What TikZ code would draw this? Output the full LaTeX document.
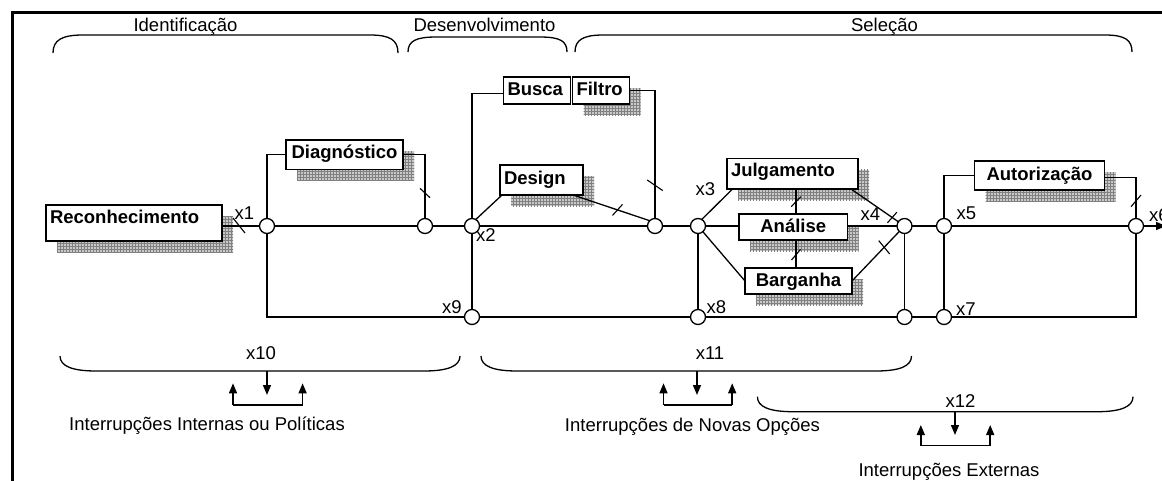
\documentclass[tikz,border=0pt]{standalone}
\usepackage{fontspec}
\setmainfont{Liberation Sans}
\usetikzlibrary{calc,arrows.meta,patterns,backgrounds}
\begin{document}
\begin{tikzpicture}[x=1pt,y=-1pt,
  txt/.style={inner sep=0pt, font=\fontsize{18.5}{22}\selectfont},
  wire/.style={line width=1.3pt},
  box/.style={draw, line width=1.4pt, fill=white, inner ysep=0pt, inner xsep=4pt,
              outer sep=0pt, font=\fontsize{18.5}{22}\selectfont\bfseries},
  junc/.style={circle, draw, line width=1.3pt, fill=white, minimum size=15pt,
               inner sep=0pt, outer sep=0pt},
  tickmark/.style={line width=1.1pt},
  brace/.style={line width=1.3pt},
  shadowfill/.style={fill=gray!42, postaction={pattern=grid, pattern color=gray}},
  flow/.style={line width=1.5pt, -{Triangle[length=10pt,width=8pt]}},
]
\useasboundingbox (0,0) rectangle (1162,480);

% frame
\draw[line width=3pt] (12,485) -- (12,12) -- (1170,12);

% phase braces
\draw[brace] (53,53) .. controls (53,40) and (62,35) .. (83,35) -- (370,35)
  .. controls (390,35) and (398,40) .. (398,53);
\draw[brace] (408,52) .. controls (408,41) and (416,37) .. (436,37) -- (540,37)
  .. controls (560,37) and (567,41) .. (567,52);
\draw[brace] (575,52) .. controls (575,40) and (583,35) .. (603,35) -- (1105,35)
  .. controls (1125,35) and (1132,40) .. (1132,52);
\node[txt, anchor=base] (tid) at (185.5,31.7) {Identificação};
\node[txt, anchor=base] (tdv) at (484.5,31.7) {Desenvolvimento};
\node[txt, anchor=base] (tsl) at (884.5,31.7) {Seleção};

% routine boxes
\node[box, anchor=base west, text width=168pt, text height=18.5pt, text depth=17.5pt, align=left]
  (rec) at (46,223.5) {Reconhecimento};
\node[box, anchor=base west, text width=109pt, text height=18.5pt, text depth=11pt, align=center]
  (diag) at (286,158.5) {Diagnóstico};
\node[box, anchor=base west, text width=59pt, text height=18.7pt, text depth=8.3pt, align=left]
  (busca) at (503.5,95.7) {Busca};
\node[box, anchor=base west, text width=49pt, text height=18.7pt, text depth=8.3pt, align=left]
  (filtro) at (572.5,95.7) {Filtro};
\node[box, anchor=base west, text width=75pt, text height=19pt, text depth=11pt, align=left]
  (design) at (500,184) {Design};
\node[box, anchor=base west, text width=123pt, text height=18.2pt, text depth=12.3pt, align=left]
  (julg) at (727,176.7) {Julgamento};
\node[box, anchor=base west, text width=100.5pt, text height=18.3pt, text depth=7.7pt, align=center]
  (anal) at (739,232.3) {Análise};
\node[box, anchor=base west, text width=99pt, text height=18.7pt, text depth=7.3pt, align=center]
  (barg) at (745,286.7) {Barganha};
\node[box, anchor=base west, text width=122pt, text height=19.7pt, text depth=9.3pt, align=center]
  (aut) at (974.5,180.7) {Autorização};

% hatched drop shadows
\begin{scope}[on background layer]
  \foreach \n in {rec,diag,filtro,design,julg,anal,barg,aut}
    \path[shadowfill] ($(\n.north west)+(11,11)$) rectangle ($(\n.south east)+(11,11)$);
\end{scope}

% junctions
\node[junc] (c1) at (267,226) {};
\node[junc] (c2) at (425,226) {};
\node[junc] (x2) at (472,226) {};
\node[junc] (c3) at (655,226) {};
\node[junc] (x3) at (698,226) {};
\node[junc] (x4) at (904.5,226) {};
\node[junc] (x5) at (944,226) {};
\node[junc] (x6) at (1136,226) {};
\node[junc] (x9) at (472,317) {};
\node[junc] (x8) at (698,317) {};
\node[junc] (x4b) at (904.5,317) {};
\node[junc] (x7) at (944,317) {};
\coordinate (out) at (1166,226);
\coordinate (vJ) at (796,0);

% junction labels
\node[txt] (lx1) at (244.5,213) {x1};
\node[txt] (lx2) at (486,235.5) {x2};
\node[txt] (lx3) at (705.5,189) {x3};
\node[txt] (lx4) at (870.5,213.8) {x4};
\node[txt] (lx5) at (966.3,213.3) {x5};
\node[txt, anchor=west] (lx6) at (1149,215) {x6};
\node[txt] (lx7) at (966,308.7) {x7};
\node[txt] (lx8) at (716.3,307.5) {x8};
\node[txt] (lx9) at (452,307.5) {x9};

% main path
\draw[wire] (rec.east |- c1) -- (c1);
\draw[wire] (c1) -- (c2);
\draw[wire] (c2) -- (x2);
\draw[wire] (x2) -- (c3);
\draw[wire] (c3) -- (x3);
\draw[wire] (x3) -- (x3 -| anal.west);
\draw[wire] (anal.east |- x4) -- (x4);
\draw[wire] (x4) -- (x5);
\draw[wire] (x5) -- (x6);
\draw[flow] (x6) -- (out);

% diagnosis loop
\draw[wire] (c1) |- (diag.west);
\draw[wire] (diag.east) -| (c2);

% development loops
\draw[wire] (x2) |- ($(busca.west)+(0,3)$);
\draw[wire] (filtro.east) -| (c3);
\draw[wire] (x2.60) -- ($(design.south west)+(2,0)$);
\draw[wire] ($(design.south east)+(-10,0)$) -- (c3.north west) coordinate[pos=0.58] (t4);

% selection routines
\draw[wire] (x3.60) -- ($(julg.south west)+(5.5,0)$);
\draw[wire] (x3) -- (barg.west);
\draw[wire] (vJ |- julg.south) -- (vJ |- anal.north);
\draw[wire] (vJ |- anal.south) -- (vJ |- barg.north);
\draw[wire] ($(julg.south east)+(-7,0)$) -- (x4) coordinate[pos=0.87] (t7);
\draw[wire] (barg.east) -- (x4) coordinate[pos=0.68] (t8);

% authorization loop
\draw[wire] (x5) |- (aut.west);
\draw[wire] ($(aut.east)+(0,2)$) -| (x6);

% recycle paths
\draw[wire] (c1) |- (x9);
\draw[wire] (x2) -- (x9);
\draw[wire] (x3) -- (x8);
\draw[wire] (x4) -- (x4b);
\draw[wire] (x5) -- (x7);
\draw[wire] (x9) -- (x8);
\draw[wire] (x8) -- (x4b);
\draw[wire] (x4b) -- (x7);
\draw[wire] (x6) |- (x7);

% delay ticks
\draw[tickmark] (233,218) -- (245,233);
\draw[tickmark] (420,188.3) -- (430,197.7);
\draw[tickmark] (647.2,180) -- (662.8,190.6);
\draw[tickmark] ($(t4)+(-5,5.5)$) -- ($(t4)+(5,-5.5)$);
\draw[tickmark] (791.2,206.7) -- (800.8,196.7);
\draw[tickmark] (791.5,260) -- (800.5,249.4);
\draw[tickmark] ($(t7)+(-4.7,5.3)$) -- ($(t7)+(4.7,-5.3)$);
\draw[tickmark] ($(t8)+(-5.5,-6.7)$) -- ($(t8)+(5.5,6.7)$);
\draw[tickmark] (1131,206.7) -- (1141,195);

% interruption braces
\draw[brace] (60,356) .. controls (60,366) and (72,371) .. (96,371) -- (424,371)
  .. controls (448,371) and (460,366) .. (460,356);
\draw[brace] (481,356) .. controls (481,366) and (493,371) .. (517,371) -- (876,371)
  .. controls (900,371) and (911.5,366) .. (911.5,356);
\draw[brace] (757.4,396.7) .. controls (757.4,406.7) and (769,411.7) .. (793,411.7) -- (1097,411.7)
  .. controls (1121,411.7) and (1133,406.7) .. (1133,396.7);
\node[txt] (x10) at (261,353.3) {x10};
\node[txt] (x11) at (710,353.3) {x11};
\node[txt] (x12) at (960.5,400.7) {x12};

% interruption arrows
\draw[flow] (267,371) -- (267,395);
\draw[flow] (233,405) -- (233,383.3);
\draw[flow] (302.6,405) -- (302.6,383.3);
\draw[line width=1.5pt] (233,405) -- (302.6,405);
\draw[flow] (697,371) -- (697,395);
\draw[flow] (663.5,405) -- (663.5,383.3);
\draw[flow] (732.2,405) -- (732.2,383.3);
\draw[line width=1.5pt] (663.5,405) -- (732.2,405);
\draw[flow] (955,411.7) -- (955,435);
\draw[flow] (920.8,445.7) -- (920.8,425);
\draw[flow] (990.2,445.7) -- (990.2,425);
\draw[line width=1.5pt] (920.8,445.7) -- (990.2,445.7);

\node[txt, anchor=base] (i1) at (207,430.6) {Interrupções Internas ou Políticas};
\node[txt, anchor=base] (i2) at (692.5,431.6) {Interrupções de Novas Opções};
\node[txt, anchor=base] (i3) at (949,476.5) {Interrupções Externas};
\end{tikzpicture}
\end{document}
